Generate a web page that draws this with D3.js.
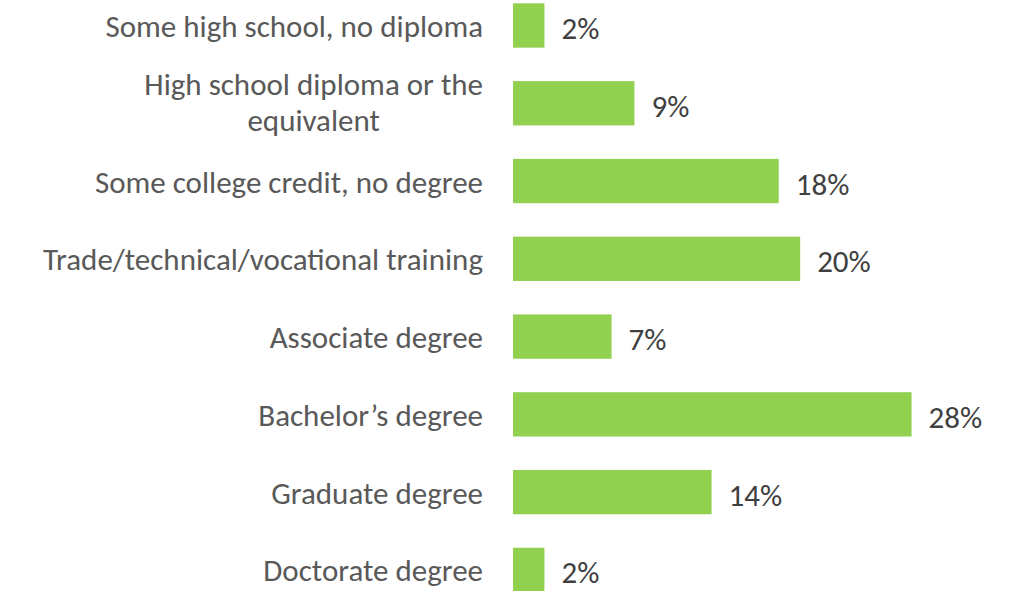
<!DOCTYPE html>
<html>
<head>
<meta charset="utf-8">
<script src="https://cdn.jsdelivr.net/npm/d3@7"></script>
<style>
  html, body { margin: 0; padding: 0; background: #ffffff; overflow: hidden; }
  svg { display: block; }
</style>
</head>
<body>
<svg id="chart" width="1015" height="591"></svg>
<script>
// ---- data ----
const categories = [
  "Some high school, no diploma",
  "High school diploma or the\nequivalent",
  "Some college credit, no degree",
  "Trade/technical/vocational training",
  "Associate degree",
  "Bachelor\u2019s degree",
  "Graduate degree",
  "Doctorate degree"
];
// bar lengths (percent)
const values = [2.2, 8.5, 18.6, 20.1, 6.9, 27.9, 13.9, 2.2];
// printed data labels
const valueLabels = ["2%", "9%", "18%", "20%", "7%", "28%", "14%", "2%"];

// ---- layout ----
const W = 1015, H = 591;
const barLeft = 513;
const labelRight = 483;
const fontFamily = "Carlito, Calibri, Lato, 'Liberation Sans', sans-serif";
const fontSize = 31;

const svg = d3.select("#chart");

const x = d3.scaleLinear().domain([0, 28]).range([barLeft, barLeft + 400]);
const y = d3.scaleBand()
  .domain(categories)
  .range([-13.4, 608.8])
  .paddingInner(0.43)
  .paddingOuter(0.215);

// bars
svg.append("g").selectAll("rect")
  .data(categories)
  .join("rect")
  .attr("x", x(0))
  .attr("y", d => y(d))
  .attr("width", (d, i) => x(values[i]) - x(0))
  .attr("height", y.bandwidth())
  .attr("fill", "#92D050");

// value labels
svg.append("g").selectAll("text")
  .data(categories)
  .join("text")
  .attr("x", (d, i) => x(values[i]) + 17)
  .attr("y", d => y(d) + y.bandwidth() / 2 + 13.5)
  .attr("font-family", fontFamily)
  .attr("font-size", fontSize)
  .attr("fill", "#404040")
  .text((d, i) => valueLabels[i]);

// category labels (right-aligned block, lines centred within block)
const lineGap = 36.4;
const catG = svg.append("g");
categories.forEach(cat => {
  const lines = cat.split("\n");
  const cy = y(cat) + y.bandwidth() / 2;
  const n = lines.length;
  const texts = lines.map((ln, i) =>
    catG.append("text")
      .attr("y", cy + 11.5 + (i - (n - 1) / 2) * lineGap - (n > 1 ? 2 : 0))
      .attr("font-family", fontFamily)
      .attr("font-size", fontSize)
      .attr("fill", "#595959")
      .attr("text-anchor", "middle")
      .text(ln)
  );
  const widths = texts.map(t => t.node().getComputedTextLength());
  const maxW = d3.max(widths);
  const centerX = labelRight - maxW / 2;
  texts.forEach(t => t.attr("x", centerX));
});
</script>
</body>
</html>
